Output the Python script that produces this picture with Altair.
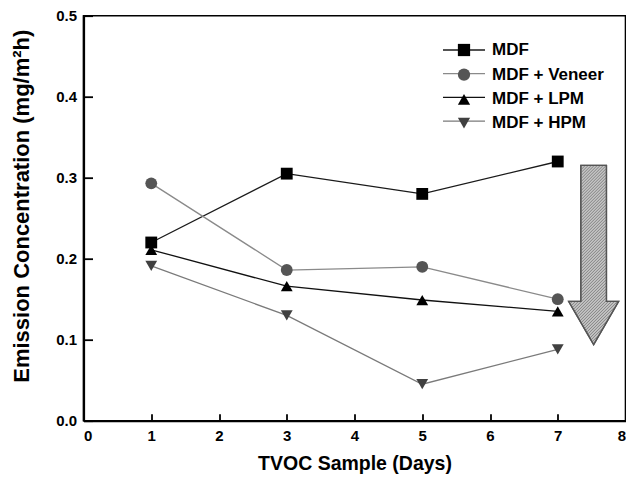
import altair as alt
import pandas as pd
import numpy as np

# ---- data ----
days = [1, 3, 5, 7]
series = ["MDF", "MDF + Veneer", "MDF + LPM", "MDF + HPM"]
mdf = [0.220, 0.305, 0.280, 0.320]
mdf_veneer = [0.293, 0.186, 0.190, 0.150]
mdf_lpm = [0.211, 0.166, 0.149, 0.135]
mdf_hpm = [0.191, 0.130, 0.045, 0.088]

x_ticks = [0, 1, 2, 3, 4, 5, 6, 7, 8]
y_ticks = [0.0, 0.1, 0.2, 0.3, 0.4, 0.5]

# annotation arrow (centre, in data units)
arrow_x = [7.53]
arrow_y = [0.2046]

line_colors = ["#1a1a1a", "#8a8a8a", "#111111", "#7a7a7a"]
point_colors = ["#000000", "#555555", "#000000", "#404040"]
shapes = ["square", "circle", "triangle-up", "triangle-down"]

rows = []
for name, vals in zip(series, [mdf, mdf_veneer, mdf_lpm, mdf_hpm]):
    for d, v in zip(days, vals):
        rows.append({"day": d, "value": v, "series": name})
df = pd.DataFrame(rows)
arrow_df = pd.DataFrame({"x": arrow_x, "y": arrow_y})

FONT = "Liberation Sans"
W, H = 542, 405

# ---- arrow shape (normalized symbol path) ----
poly = [(-0.143, -1), (0.143, -1), (0.143, 0.518), (0.279, 0.518),
        (0.0, 1.0), (-0.279, 0.518), (-0.143, 0.518)]
arrow_path = "M" + " L".join(f"{px},{py}" for px, py in poly) + " Z"

# hatch lines clipped to the arrow polygon
hatch_parts = []
sums = [px + py for px, py in poly]
c = min(sums) + 0.0171
step = 0.0335
while c < max(sums):
    xs = []
    for i in range(len(poly)):
        ax, ay = poly[i]
        bx, by = poly[(i + 1) % len(poly)]
        dx, dy = bx - ax, by - ay
        den = dx + dy
        if abs(den) < 1e-12:
            continue
        s = (c - ax - ay) / den
        if 0 <= s < 1:
            xs.append(ax + s * dx)
    xs.sort()
    for k in range(0, len(xs) - 1, 2):
        x1, x2 = xs[k], xs[k + 1]
        hatch_parts.append(f"M{x1:.3f},{c - x1:.3f}L{x2:.3f},{c - x2:.3f}")
    c += step
hatch_path = "".join(hatch_parts)
ARROW_SIZE = 179.3 ** 2

xscale = alt.Scale(domain=[0, 8], nice=False)
yscale = alt.Scale(domain=[0, 0.5], nice=False)

legend_common = dict(
    orient="none", legendX=372, legendY=25.8, padding=0, title=None,
    symbolSize=150, labelFontSize=17, labelFont=FONT, labelFontWeight="bold",
    labelOffset=19.5, rowPadding=5.7,
)

lines = alt.Chart(df).mark_line(strokeWidth=1.3).encode(
    x=alt.X("day:Q", scale=xscale,
            axis=alt.Axis(orient="bottom", values=x_ticks, format="d",
                          ticks=False, tickSize=0, labelPadding=8,
                          title="TVOC Sample (Days)", titleFontSize=19.5,
                          titleY=49, titleBaseline="alphabetic")),
    y=alt.Y("value:Q", scale=yscale,
            axis=alt.Axis(orient="left", values=y_ticks, format=".1f",
                          ticks=False, tickSize=0, labelPadding=7,
                          title="Emission Concentration (mg/m²h)",
                          titleFontSize=22, titleAngle=270, titleX=-55.5,
                          titleY=190, titleBaseline="alphabetic",
                          titleAlign="center")),
    stroke=alt.Stroke("series:N", sort=series,
                      scale=alt.Scale(range=line_colors),
                      legend=alt.Legend(symbolType="M-3.43,0H3.43",
                                        symbolStrokeWidth=1.3,
                                        labelExpr="''",
                                        **legend_common)),
    detail="series:N",
    order="day:Q",
)

pt_legend = alt.Legend(**legend_common)
points = alt.Chart(df).mark_point(filled=True, size=140, opacity=1).encode(
    x=alt.X("day:Q", scale=xscale,
            axis=alt.Axis(orient="top", offset=-H, values=x_ticks,
                          labels=False, domain=False, tickSize=7,
                          title=None)),
    y=alt.Y("value:Q", scale=yscale,
            axis=alt.Axis(orient="right", offset=-W, values=y_ticks,
                          labels=False, domain=False, tickSize=9,
                          title=None)),
    fill=alt.Fill("series:N",
                  scale=alt.Scale(domain=series, range=point_colors),
                  legend=pt_legend),
    shape=alt.Shape("series:N",
                    scale=alt.Scale(domain=series, range=shapes),
                    legend=pt_legend),
)

arrow = alt.Chart(arrow_df).mark_point(
    shape=arrow_path, filled=True, fill="#c4c4c4", stroke="#555555",
    strokeWidth=1.3, size=ARROW_SIZE, opacity=1,
).encode(
    x=alt.X("x:Q", scale=xscale, axis=None),
    y=alt.Y("y:Q", scale=yscale, axis=None),
)

hatch = alt.Chart(arrow_df).mark_point(
    shape=hatch_path, filled=False, stroke="#7a7a7a",
    strokeWidth=0.9, size=ARROW_SIZE, opacity=1,
).encode(
    x=alt.X("x:Q", scale=xscale, axis=None),
    y=alt.Y("y:Q", scale=yscale, axis=None),
)

arrow_outline = alt.Chart(arrow_df).mark_point(
    shape=arrow_path, filled=False, stroke="#555555",
    strokeWidth=1.3, size=ARROW_SIZE, opacity=1,
).encode(
    x=alt.X("x:Q", scale=xscale, axis=None),
    y=alt.Y("y:Q", scale=yscale, axis=None),
)

chart = alt.layer(lines, points, arrow, hatch, arrow_outline).resolve_axis(
    x="independent", y="independent"
).properties(
    width=W, height=H,
    autosize=alt.AutoSizeParams(type="none"),
    padding={"left": 75.5, "top": 7.7, "right": 0.5, "bottom": 53},
    background="white",
).configure_view(
    stroke="black", strokeWidth=1.6
).configure_axis(
    grid=False, domainColor="black", domainWidth=2.2,
    tickColor="black", tickWidth=1.8,
    labelFont=FONT, labelFontWeight="bold", labelFontSize=15,
    labelColor="black",
    titleFont=FONT, titleFontWeight="bold", titleColor="black",
)

chart.save("out.html", embed_options={"renderer": "svg", "actions": False})
